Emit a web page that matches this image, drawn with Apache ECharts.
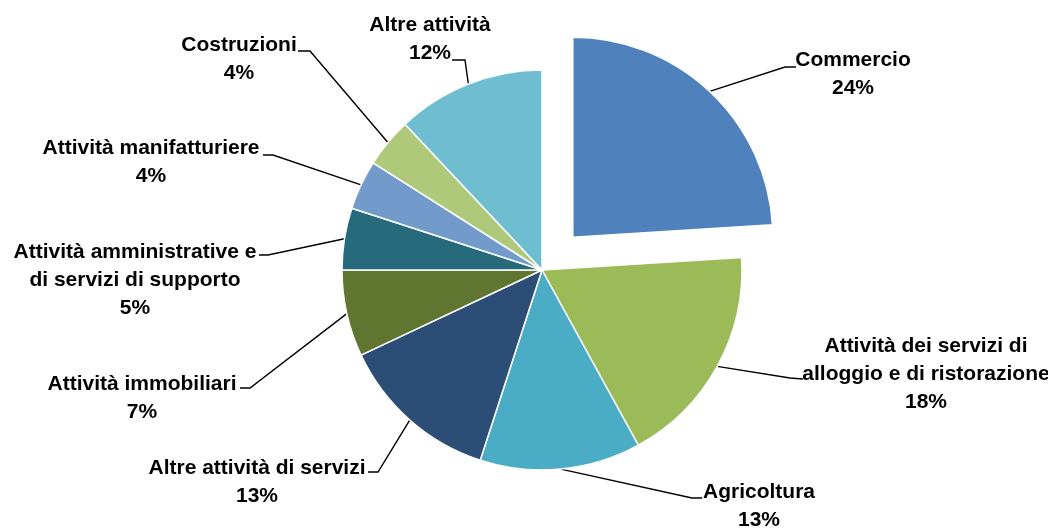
<!DOCTYPE html>
<html>
<head>
<meta charset="utf-8">
<script src="https://cdn.jsdelivr.net/npm/echarts@6/dist/echarts.min.js"></script>
<style>
  html, body { margin: 0; padding: 0; background: #fff; }
  #chart { width: 1048px; height: 529px; }
</style>
</head>
<body>
<div id="chart"></div>
<script>
// settori (ordine orario da ore 12)
const categories = [
  'Commercio',
  'Attività dei servizi di\nalloggio e di ristorazione',
  'Agricoltura',
  'Altre attività di servizi',
  'Attività immobiliari',
  'Attività amministrative e\ndi servizi di supporto',
  'Attività manifatturiere',
  'Costruzioni',
  'Altre attività'
];
const shares = [24, 18, 13, 13, 7, 5, 4, 4, 12];
const exploded = [true, false, false, false, false, false, false, false, false];
const colors = ['#4F81BD', '#9BBB59', '#4BACC6', '#2C4D75', '#5F7530', '#276A7C', '#729ACA', '#AFC97A', '#6FBDD1'];

// posizione etichette (centro blocco) e linee guida: [gomito, coda]
const labelPos = [[853, 74], [926, 374], [759, 506], [257, 482], [142, 398], [135, 280], [151, 162], [239, 59], [430, 39]];
const guide = [
  [[785, 67], [796, 67]],
  [[790, 378], [803, 379]],
  [[692, 498], [702, 498]],
  [[378, 472], [368, 472]],
  [[250, 388], [240, 388]],
  [[268, 255], [259, 255]],
  [[273, 155], [263, 155]],
  [[310, 51], [298, 51]],
  [[465, 60], [452, 60]]
];

const CX = 542, CY = 270, R = 200, OFFSET = 45;

const chart = echarts.init(document.getElementById('chart'));

const pieBase = {
  type: 'pie',
  center: [CX, CY],
  radius: R,
  startAngle: 90,
  clockwise: true,
  emphasis: { disabled: true }
};

chart.setOption({
  animation: false,
  series: [
    // spicchi (con il settore esploso)
    Object.assign({}, pieBase, {
      selectedMode: 'multiple',
      selectedOffset: OFFSET,
      itemStyle: { borderColor: '#fff', borderWidth: 1.5 },
      label: { show: false },
      labelLine: { show: false },
      data: categories.map((name, i) => ({
        name: name,
        value: shares[i],
        selected: exploded[i],
        itemStyle: { color: colors[i] }
      }))
    }),
    // etichette
    Object.assign({}, pieBase, {
      silent: true,
      itemStyle: { color: 'rgba(0,0,0,0)', borderWidth: 0 },
      label: {
        show: true,
        formatter: '{b}\n{c}%',
        fontFamily: 'Liberation Sans, Arial, sans-serif',
        fontWeight: 'bold',
        fontSize: 21,
        lineHeight: 28,
        color: '#000',
        align: 'center'
      },
      labelLine: {
        show: true,
        lineStyle: { color: '#000', width: 1.4 }
      },
      labelLayout: function (params) {
        const i = params.dataIndex;
        let start = params.labelLinePoints[0].slice();
        if (exploded[i]) {
          const vx = start[0] - CX, vy = start[1] - CY;
          const len = Math.sqrt(vx * vx + vy * vy);
          start = [start[0] + vx / len * OFFSET, start[1] + vy / len * OFFSET];
        }
        return {
          x: labelPos[i][0],
          y: labelPos[i][1],
          align: 'center',
          verticalAlign: 'middle',
          labelLinePoints: [start, guide[i][0], guide[i][1]]
        };
      },
      data: categories.map((name, i) => ({ name: name, value: shares[i] }))
    })
  ]
});
</script>
</body>
</html>
